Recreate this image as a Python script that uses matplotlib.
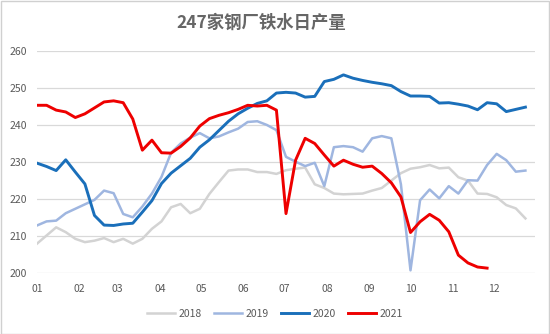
import matplotlib
matplotlib.use("Agg")
import matplotlib.pyplot as plt
from matplotlib.patches import Rectangle

# weekly readings, 247 steel mills daily hot metal output (10k t)
y2018 = [208, 210.2, 212.4, 211.1, 209.3, 208.4, 208.8, 209.5, 208.4, 209.3,
         208, 209.3, 212, 214, 217.8, 218.7, 216.2, 217.4, 221.4, 224.6,
         227.7, 228, 228, 227.3, 227.3, 226.8, 227.8, 228.2, 228.5, 224,
         223, 221.5, 221.3, 221.4, 221.5, 222.3, 223, 225, 227, 228.2,
         228.6, 229.2, 228.3, 228.5, 225.9, 225, 221.5, 221.4, 220.5, 218.4,
         217.5, 214.8]
y2019 = [212.9, 214, 214.2, 216.2, 217.4, 218.6, 219.8, 222.3, 221.6, 216,
         215.1, 218, 221.5, 226, 232.5, 235, 236.6, 237.8, 236.4, 236.9,
         238, 239, 240.8, 241, 240, 238.6, 231.4, 230.1, 228.9, 229.8,
         223.5, 234, 234.3, 234, 232.8, 236.4, 237, 236.4, 224, 200.8,
         219.7, 222.6, 220.2, 223.5, 221.5, 225.1, 225, 229.2, 232.2, 230.5,
         227.4, 227.7]
y2020 = [229.7, 228.8, 227.7, 230.6, 227.3, 224.1, 215.6, 213, 212.9, 213.3,
         213.5, 216.5, 219.6, 224.2, 227, 229, 231, 234, 236, 238.5,
         241, 243, 244.5, 245.8, 246.5, 248.6, 248.8, 248.6, 247.5, 247.7,
         251.7, 252.3, 253.5, 252.6, 252, 251.5, 251.1, 250.6, 249, 247.8,
         247.8, 247.7, 245.9, 246, 245.6, 245.1, 244.1, 246, 245.7, 243.6,
         244.2, 244.8]
y2021 = [245.3, 245.3, 244, 243.5, 242, 243, 244.6, 246.2, 246.5, 246,
         241.6, 233.2, 235.9, 232.5, 232.4, 234.2, 236.5, 239.7, 241.7, 242.6,
         243.3, 244.2, 245.3, 245.1, 245.3, 244, 216.1, 230.5, 236.4, 235,
         231.9, 228.9, 230.5, 229.4, 228.6, 228.9, 226.9, 224.4, 220.6, 211,
         213.9, 215.9, 214.3, 211.2, 204.9, 202.8, 201.7, 201.4]

month_days = [0, 31, 59, 90, 120, 151, 181, 212, 243, 273, 304, 334]
month_labels = ["01", "02", "03", "04", "05", "06", "07", "08", "09", "10", "11", "12"]

series = [("2018", y2018, "#d3d3d3", 1.8),
          ("2019", y2019, "#9fb6e0", 1.8),
          ("2020", y2020, "#1a6fba", 2.1),
          ("2021", y2021, "#ee0000", 2.1)]

plt.rcParams["font.family"] = ["Noto Sans CJK SC", "DejaVu Sans"]

fig = plt.figure(figsize=(5.5, 3.34), dpi=100)
ax = fig.add_axes([0.0673, 0.1817, 0.9054, 0.6663])

for name, vals, color, lw in series:
    days = [7 * i for i in range(len(vals))]
    ax.plot(days, vals, color=color, linewidth=lw, label=name,
            solid_joinstyle="round")

ax.set_xlim(0, 364)
ax.set_ylim(200, 260)
ax.set_yticks(range(200, 261, 10))
ax.set_xticks(month_days)
ax.set_xticklabels(month_labels)
ax.grid(axis="y", color="#d9d9d9", linewidth=0.9)
ax.set_axisbelow(True)
for s in ax.spines.values():
    s.set_visible(False)
ax.tick_params(length=0, labelsize=7.5, colors="#595959", pad=7)
ax.tick_params(axis="x", pad=8)

fig.text(0.475, 0.933, "247家钢厂铁水日产量", ha="center", va="center",
         fontsize=12.5, fontweight="bold", color="#666666")

leg = fig.legend(loc="center", bbox_to_anchor=(0.5, 0.06), ncol=4,
                 frameon=False, fontsize=7.5, handlelength=2.7,
                 columnspacing=1.2, handletextpad=0.3)
for t in leg.get_texts():
    t.set_color("#595959")

fig.patches.append(Rectangle((0.001, 0.001), 0.997, 0.996,
                             transform=fig.transFigure, fill=False,
                             edgecolor="#d0d0d0", linewidth=1))

fig.savefig("out.png", dpi=100)
